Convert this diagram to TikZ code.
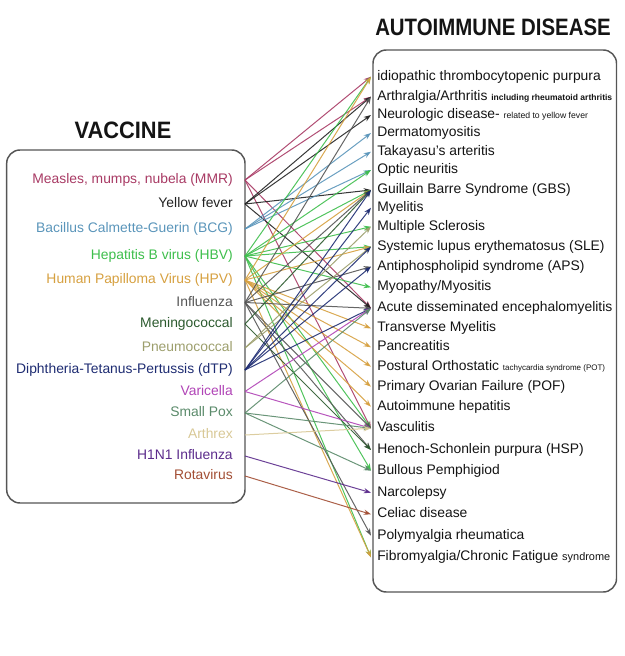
\documentclass[tikz,border=0pt]{standalone}
\usepackage{fontspec}
\setmainfont{Liberation Sans}
\usetikzlibrary{arrows.meta}
\definecolor{boxgray}{HTML}{555555}
\definecolor{cMMR}{HTML}{A83A64}
\definecolor{cYF}{HTML}{222222}
\definecolor{cBCG}{HTML}{5A95BA}
\definecolor{cHBV}{HTML}{3EBE4C}
\definecolor{cHPV}{HTML}{D6A040}
\definecolor{cFLU}{HTML}{555555}
\definecolor{cMEN}{HTML}{2C5A2E}
\definecolor{cPNE}{HTML}{9C9E6C}
\definecolor{cDTP}{HTML}{1E2C72}
\definecolor{cVAR}{HTML}{B044B6}
\definecolor{cSPX}{HTML}{5A8A6A}
\definecolor{cARX}{HTML}{D8C896}
\definecolor{cHIN}{HTML}{5C2C8C}
\definecolor{cROT}{HTML}{A24E34}
\tikzset{
  box/.style={draw=boxgray, line width=1.1pt, rounded corners=10pt},
  vlab/.style={anchor=mid east, inner sep=0pt, font=\fontsize{10.4pt}{12pt}\selectfont},
  dlab/.style={anchor=mid west, inner sep=0pt, text=black!92, font=\fontsize{10.4pt}{12pt}\selectfont},
  ttl/.style={inner sep=0pt, text=black!92, font=\fontsize{17.8pt}{20pt}\selectfont\bfseries},
  lk/.style={line width=0.75pt, -{Stealth[length=5.5pt,width=4pt]}, opacity=0.9},
  smallb/.style={font=\fontsize{6.6pt}{8pt}\selectfont\bfseries},
}
\newcommand{\smallr}[1]{{\fontsize{6.5pt}{8pt}\selectfont #1}}
\newcommand{\smallbf}[1]{{\fontsize{6.4pt}{8pt}\selectfont\bfseries #1}}
\begin{document}
\begin{tikzpicture}[x=0.75pt,y=-0.75pt]
\useasboundingbox (0,0) rectangle (624,656);
% titles
\node[ttl, xscale=0.86] (tDis) at (493,27) {AUTOIMMUNE DISEASE};
\node[ttl, xscale=0.92] (tVac) at (123,130) {VACCINE};
% boxes
\draw[box] (6.7,150) rectangle (245,503);
\draw[box] (373,50) rectangle (616.5,592);
% vaccine labels
\node[vlab, text=cMMR] (L1) at (233,180) {Measles, mumps, nubela (MMR)};
\node[vlab, text=cYF]  (L2) at (233,204) {Yellow fever};
\node[vlab, text=cBCG] (L3) at (233,229) {Bacillus Calmette-Guerin (BCG)};
\node[vlab, text=cHBV] (L4) at (233,256) {Hepatitis B virus (HBV)};
\node[vlab, text=cHPV] (L5) at (233,280) {Human Papilloma Virus (HPV)};
\node[vlab, text=cFLU] (L6) at (233,302.5) {Influenza};
\node[vlab, text=cMEN] (L7) at (233,324) {Meningococcal};
\node[vlab, text=cPNE] (L8) at (233,348) {Pneumococcal};
\node[vlab, text=cDTP] (L9) at (233,370) {Diphtheria-Tetanus-Pertussis (dTP)};
\node[vlab, text=cVAR] (L10) at (233,391.5) {Varicella};
\node[vlab, text=cSPX] (L11) at (233,413) {Small Pox};
\node[vlab, text=cARX] (L12) at (233,435) {Arthrex};
\node[vlab, text=cHIN] (L13) at (233,456) {H1N1 Influenza};
\node[vlab, text=cROT] (L14) at (233,476) {Rotavirus};
% disease labels
\node[dlab] (D1) at (377,76.7) {idiopathic thrombocytopenic purpura};
\node[dlab] (D2) at (377,96.7) {Arthralgia/Arthritis \smallbf{including rheumatoid arthritis}};
\node[dlab] (D3) at (377,115) {Neurologic disease- \smallr{related to yellow fever}};
\node[dlab] (D4) at (377,133) {Dermatomyositis};
\node[dlab] (D5) at (377,151.7) {Takayasu's arteritis};
\node[dlab] (D6) at (377,170) {Optic neuritis};
\node[dlab] (D7) at (377,190) {Guillain Barre Syndrome (GBS)};
\node[dlab] (D8) at (377,207.7) {Myelitis};
\node[dlab] (D9) at (377,226.7) {Multiple Sclerosis};
\node[dlab] (D10) at (377,246.7) {Systemic lupus erythematosus (SLE)};
\node[dlab] (D11) at (377,266.7) {Antiphospholipid syndrome (APS)};
\node[dlab] (D12) at (377,287.3) {Myopathy/Myositis};
\node[dlab] (D13) at (377,308.3) {Acute disseminated encephalomyelitis};
\node[dlab] (D14) at (377,328.3) {Transverse Myelitis};
\node[dlab] (D15) at (377,347.3) {Pancreatitis};
\node[dlab] (D16) at (377,366.7) {Postural Orthostatic {\fontsize{6pt}{8pt}\selectfont tachycardia syndrome (POT)}};
\node[dlab] (D17) at (377,386.7) {Primary Ovarian Failure (POF)};
\node[dlab] (D18) at (377,406.7) {Autoimmune hepatitis};
\node[dlab] (D19) at (377,428.3) {Vasculitis};
\node[dlab] (D20) at (377,450) {Henoch-Schonlein purpura (HSP)};
\node[dlab] (D21) at (377,470.7) {Bullous Pemphigiod};
\node[dlab] (D22) at (377,492.7) {Narcolepsy};
\node[dlab] (D23) at (377,514.3) {Celiac disease};
\node[dlab] (D24) at (377,535.7) {Polymyalgia rheumatica};
\node[dlab] (D25) at (377,557.3) {Fibromyalgia/Chronic Fatigue {\fontsize{8.2pt}{10pt}\selectfont syndrome}};
% connector end points
\foreach \i/\y in {1/180,2/204,3/229,4/256,5/280,6/302.5,7/324,8/348,9/370,10/391.5,11/413,12/435,13/456,14/476}
  \coordinate (v\i) at (245,\y);
\foreach \i/\y in {1/76.7,2/96.7,3/115,4/133,5/151.7,6/170,7/190,8/207.7,9/226.7,10/246.7,11/266.7,12/287.3,13/308.3,14/328.3,15/347.3,16/366.7,17/386.7,18/406.7,19/428.3,20/450,21/470.7,22/492.7,23/514.3,24/535.7,25/557.3}
  \coordinate (d\i) at (371,\y);
% connectors
\foreach \d in {1,2,13,19} \draw[lk, color=cMMR] (v1) -- (d\d);
\foreach \d in {2,3,7,13} \draw[lk, color=cYF] (v2) -- (d\d);
\foreach \d in {4,5,6} \draw[lk, color=cBCG] (v3) -- (d\d);
\foreach \d in {1,6,7,9,10,12,19,21,25} \draw[lk, color=cHBV] (v4) -- (d\d);
\foreach \d in {1,7,10,14,15,16,17,18,25} \draw[lk, color=cHPV] (v5) -- (d\d);
\foreach \d in {2,7,11,13,19,20,24} \draw[lk, color=cFLU] (v6) -- (d\d);
\foreach \d in {7,20} \draw[lk, color=cMEN] (v7) -- (d\d);
\foreach \d in {9,10} \draw[lk, color=cPNE] (v8) -- (d\d);
\foreach \d in {7,8,10,11,13} \draw[lk, color=cDTP] (v9) -- (d\d);
\foreach \d in {13,19} \draw[lk, color=cVAR] (v10) -- (d\d);
\foreach \d in {13,19,21} \draw[lk, color=cSPX] (v11) -- (d\d);
\foreach \d in {19} \draw[lk, color=cARX] (v12) -- (d\d);
\foreach \d in {22} \draw[lk, color=cHIN] (v13) -- (d\d);
\foreach \d in {23} \draw[lk, color=cROT] (v14) -- (d\d);
\end{tikzpicture}
\end{document}
